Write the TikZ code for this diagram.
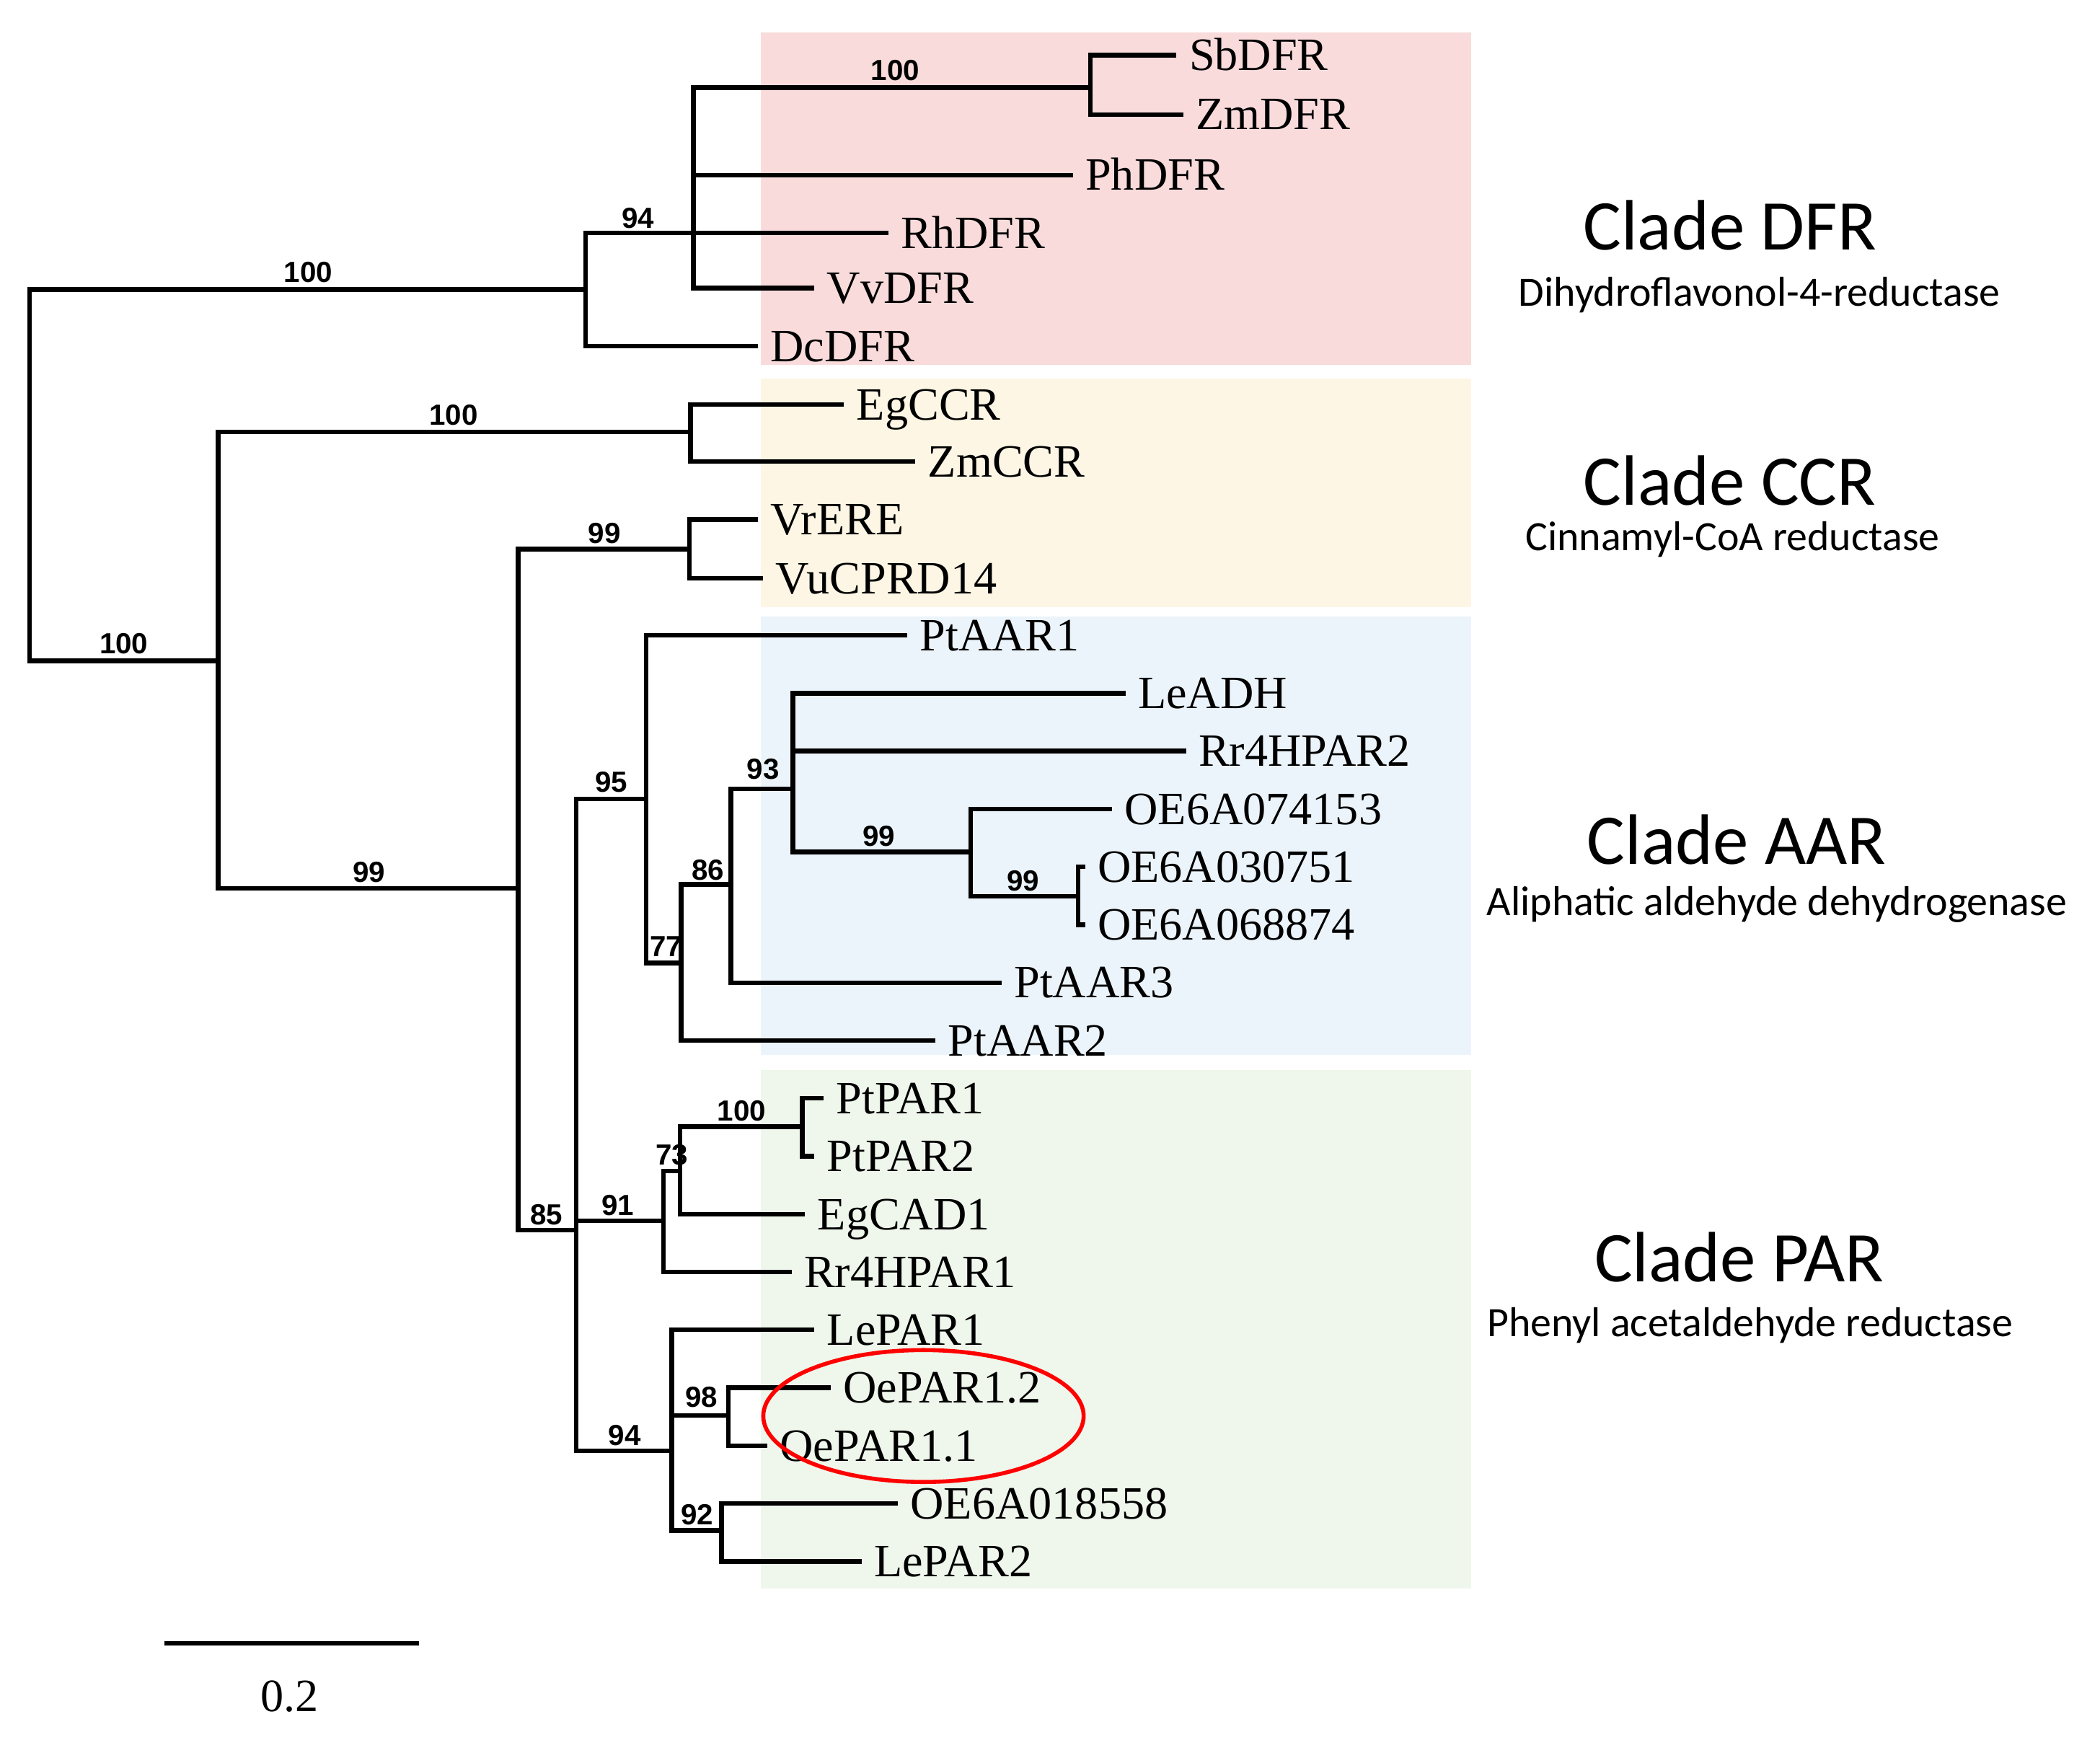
\documentclass[tikz,border=0pt]{standalone}
\usepackage{fontspec}
\setmainfont{Liberation Serif}
\newfontfamily\bootfont{Liberation Sans}
\newfontfamily\cladefont{Carlito}
\definecolor{cpink}{RGB}{249,219,219}
\definecolor{cyellow}{RGB}{253,246,228}
\definecolor{cblue}{RGB}{236,244,251}
\definecolor{cgreen}{RGB}{239,247,236}
\begin{document}
\begin{tikzpicture}[x=0.5pt,y=-0.5pt,
  br/.style={line width=1.7pt, line join=miter},
  tip/.style={anchor=west, inner xsep=4.5pt, inner ysep=0pt, font=\fontsize{17.2}{20}\selectfont, text height=11.4pt, text depth=0pt},
  bs/.style={font=\bootfont\bfseries\fontsize{10.8}{12}\selectfont, inner sep=0pt, text height=7.7pt, text depth=0pt},
  ctitle/.style={anchor=base, inner sep=0pt, font=\cladefont\fontsize{26.5}{30}\selectfont, text height=17pt, text depth=0pt},
  csub/.style={anchor=base, inner sep=0pt, font=\cladefont\fontsize{15.5}{18}\selectfont, text height=10pt, text depth=3pt}]
\useasboundingbox (0,0) rectangle (1560,1296.4);
% clade backgrounds
\fill[cpink] (565,24) rectangle (1093,271);
\fill[cyellow] (565,281) rectangle (1093,451);
\fill[cblue] (565,458) rectangle (1093,784);
\fill[cgreen] (565,795) rectangle (1093,1180);
% internal nodes
\coordinate (root) at (22,353);
\coordinate (nA) at (435,215);
\coordinate (n94a) at (515,173);
\coordinate (n100a) at (810,65);
\coordinate (nB) at (162,491);
\coordinate (nCCR) at (513,321);
\coordinate (n99b) at (385,660);
\coordinate (n99a) at (512,408);
\coordinate (n85) at (428,914);
\coordinate (n95) at (480,593.5);
\coordinate (n77) at (506,715.5);
\coordinate (n86) at (543,657);
\coordinate (n93) at (589,586);
\coordinate (n99c) at (721,633);
\coordinate (n99d) at (801,666);
\coordinate (n91) at (493,907);
\coordinate (n73) at (505,870);
\coordinate (n100b) at (596,837);
\coordinate (n94b) at (499,1078);
\coordinate (n98) at (541,1051.6);
\coordinate (n92) at (536,1137);
% tips
\node[tip] (Sb) at (874,41) {SbDFR};
\node[tip] (ZmD) at (879,85) {ZmDFR};
\node[tip] (Ph) at (797,130) {PhDFR};
\node[tip] (Rh) at (660,173) {RhDFR};
\node[tip] (Vv) at (605,214) {VvDFR};
\node[tip] (Dc) at (563,257) {DcDFR};
\node[tip] (EgC) at (627,300.5) {EgCCR};
\node[tip] (ZmC) at (680,343) {ZmCCR};
\node[tip] (Vr) at (563,386) {VrERE};
\node[tip] (Vu) at (567,429.5) {VuCPRD14};
\node[tip] (A1) at (674,472) {PtAAR1};
\node[tip] (Le) at (836,515) {LeADH};
\node[tip] (Rr2) at (881,558) {Rr4HPAR2};
\node[tip] (O74) at (826,601) {OE6A074153};
\node[tip] (O30) at (806,644) {OE6A030751};
\node[tip] (O68) at (806,687) {OE6A068874};
\node[tip] (A3) at (744,730) {PtAAR3};
\node[tip] (A2) at (695,773) {PtAAR2};
\node[tip] (P1) at (612,816) {PtPAR1};
\node[tip] (P2) at (605,859) {PtPAR2};
\node[tip] (Eg1) at (598,902) {EgCAD1};
\node[tip] (Rr1) at (588,945) {Rr4HPAR1};
\node[tip] (L1) at (605,988) {LePAR1};
\node[tip] (O12) at (617,1031) {OePAR1.2};
\node[tip] (O11) at (570,1074) {OePAR1.1};
\node[tip] (O18) at (667,1117) {OE6A018558};
\node[tip] (L2) at (640,1160) {LePAR2};
% branches
\draw[br] (root) |- (nA);
\draw[br] (root) |- (nB);
\draw[br] (nA) |- (n94a);
\draw[br] (nA) |- (Dc.west);
\draw[br] (n94a) |- (n100a);
\draw[br] (n94a) |- (Ph.west);
\draw[br] (n94a) |- (Rh.west);
\draw[br] (n94a) |- (Vv.west);
\draw[br] (n100a) |- (Sb.west);
\draw[br] (n100a) |- (ZmD.west);
\draw[br] (nB) |- (nCCR);
\draw[br] (nB) |- (n99b);
\draw[br] (nCCR) |- (EgC.west);
\draw[br] (nCCR) |- (ZmC.west);
\draw[br] (n99b) |- (n99a);
\draw[br] (n99b) |- (n85);
\draw[br] (n99a) |- (Vr.west);
\draw[br] (n99a) |- (Vu.west);
\draw[br] (n85) |- (n95);
\draw[br] (n85) |- (n91);
\draw[br] (n85) |- (n94b);
\draw[br] (n95) |- (A1.west);
\draw[br] (n95) |- (n77);
\draw[br] (n77) |- (n86);
\draw[br] (n77) |- (A2.west);
\draw[br] (n86) |- (n93);
\draw[br] (n86) |- (A3.west);
\draw[br] (n93) |- (Le.west);
\draw[br] (n93) |- (Rr2.west);
\draw[br] (n93) |- (n99c);
\draw[br] (n99c) |- (O74.west);
\draw[br] (n99c) |- (n99d);
\draw[br] (n99d) |- (O30.west);
\draw[br] (n99d) |- (O68.west);
\draw[br] (n91) |- (n73);
\draw[br] (n91) |- (Rr1.west);
\draw[br] (n73) |- (n100b);
\draw[br] (n73) |- (Eg1.west);
\draw[br] (n100b) |- (P1.west);
\draw[br] (n100b) |- (P2.west);
\draw[br] (n94b) |- (L1.west);
\draw[br] (n94b) |- (n98);
\draw[br] (n94b) |- (n92);
\draw[br] (n98) |- (O12.west);
\draw[br] (n98) |- (O11.west);
\draw[br] (n92) |- (O18.west);
\draw[br] (n92) |- (L2.west);
% bootstrap values
\node[bs] (b1) at (665,52) {100};
\node[bs] (b2) at (474,162) {94};
\node[bs] (b3) at (229,202) {100};
\node[bs] (b4) at (337,308) {100};
\node[bs] (b5) at (449,396) {99};
\node[bs] (b6) at (92,478) {100};
\node[bs] (b7) at (454,581) {95};
\node[bs] (b8) at (567,571) {93};
\node[bs] (b9) at (653,621) {99};
\node[bs] (b10) at (760,654) {99};
\node[bs] (b11) at (526,646) {86};
\node[bs] (b12) at (495,703) {77};
\node[bs] (b13) at (274,648) {99};
\node[bs] (b14) at (551,825) {100};
\node[bs] (b15) at (499,858) {73};
\node[bs] (b16) at (406,902) {85};
\node[bs] (b17) at (459,895) {91};
\node[bs] (b18) at (521,1038) {98};
\node[bs] (b19) at (464,1066) {94};
\node[bs] (b20) at (518,1125) {92};
% highlight
\draw[red, line width=1.5pt] (686,1052) ellipse [x radius=59.5pt, y radius=24.5pt];
% scale bar
\coordinate (s0) at (122,1221);
\coordinate (s1) at (311,1221);
\draw[br] (s0) -- (s1);
\node[inner sep=0pt, font=\fontsize{17.2}{20}\selectfont, text height=11.4pt, text depth=0pt] (sl) at (215,1260) {0.2};
% clade titles
\node[ctitle] (tD) at (1285,185.5) {Clade DFR};
\node[csub] (sD) at (1307,227.5) {Dihydroflavonol-4-reductase};
\node[ctitle] (tC) at (1285,375) {Clade CCR};
\node[csub] (sC) at (1287,409) {Cinnamyl-CoA reductase};
\node[ctitle] (tA) at (1290,642) {Clade AAR};
\node[csub] (sA) at (1320,680) {Aliphatic aldehyde dehydrogenase};
\node[ctitle] (tP) at (1292,952) {Clade PAR};
\node[csub] (sP) at (1300,993) {Phenyl acetaldehyde reductase};
\end{tikzpicture}
\end{document}
